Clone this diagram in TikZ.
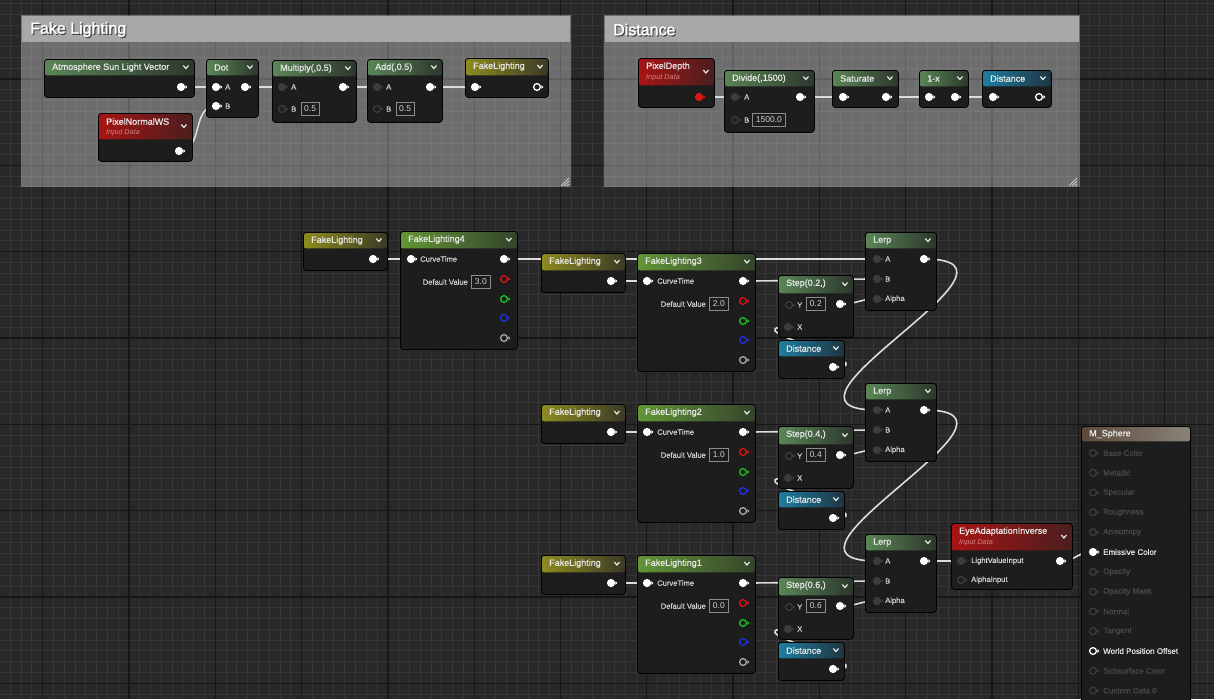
\documentclass[tikz,border=0pt]{standalone}
\usepackage{fontspec}
\setmainfont{Liberation Sans}
\newfontfamily\hdrfont{Liberation Sans}[FakeBold=0.9]
\newfontfamily\cmtfont{Liberation Sans}[FakeBold=1.4]
\newfontfamily\labfont{Liberation Sans}[FakeBold=0.3]
\usetikzlibrary{calc}
\pgfdeclarelayer{gridl}
\pgfdeclarelayer{wirel}
\pgfsetlayers{gridl,wirel,main}
\definecolor{bgc}{HTML}{282828}
\definecolor{gminor}{HTML}{363636}
\definecolor{gmajor}{HTML}{161616}
\definecolor{ctitle}{HTML}{A8A8A8}
\definecolor{bodyc}{HTML}{1C1D1C}
\definecolor{wirec}{HTML}{DCDCDC}
\definecolor{txt}{HTML}{E8E8E8}
\definecolor{lab}{HTML}{D2D2D2}
\definecolor{dimlab}{HTML}{4A4A4A}
\definecolor{pindim}{HTML}{3C3C3C}
\definecolor{boxc}{HTML}{8C8C8C}
\definecolor{subc}{HTML}{D88080}
\definecolor{mg1}{HTML}{5A8656}
\definecolor{mg2}{HTML}{2C362C}
\definecolor{cg1}{HTML}{629636}
\definecolor{cg2}{HTML}{34432C}
\definecolor{yl1}{HTML}{8E8B1E}
\definecolor{yl2}{HTML}{3A3A26}
\definecolor{tl1}{HTML}{1E7EA2}
\definecolor{tl2}{HTML}{1F3440}
\definecolor{rd1}{HTML}{A81414}
\definecolor{rd2}{HTML}{4A1E1E}
\definecolor{ms1}{HTML}{5B4A3A}
\definecolor{ms2}{HTML}{8A827A}
\definecolor{pred}{HTML}{E01212}
\definecolor{pgr}{HTML}{20C020}
\definecolor{pbl}{HTML}{2030E0}
\definecolor{pgy}{HTML}{A8A8A8}
\tikzset{
 gminorst/.style={draw=gminor, line width=1pt},
 gmajorst/.style={draw=gmajor, line width=1.3pt},
 wire/.style={draw=wirec, line width=1.6pt},
 uebody/.style={rectangle, rounded corners=3pt, draw=black, line width=0.8pt, fill=bodyc, inner sep=0pt, anchor=north west},
 hdr/.style n args={3}{path picture={\shade[left color=#1, right color=#2] (path picture bounding box.north west) rectangle ([yshift=-#3]path picture bounding box.north east);}},
 ttl/.style={anchor=west, text=txt, font=\hdrfont\fontsize{9}{10}\selectfont, inner sep=0pt},
 sub/.style={anchor=west, text=subc, font=\fontsize{7.3}{8}\selectfont\itshape, inner sep=0pt},
 plab/.style={anchor=west, text=lab, font=\labfont\fontsize{7.6}{8}\selectfont, inner sep=0pt},
 mlab/.style={anchor=west, text=dimlab, font=\labfont\fontsize{8}{9}\selectfont, inner sep=0pt},
 valbox/.style={anchor=west, draw=boxc, line width=0.7pt, text=lab, font=\fontsize{8.5}{9}\selectfont, minimum height=13pt, minimum width=19pt, inner sep=1pt},
 chev/.style={draw=txt, line width=1.2pt},
 pinn/.style={circle, inner sep=0pt, minimum size=6.8pt, line width=1.3pt},
 ctxt/.style={anchor=west, text=white, font=\cmtfont\fontsize{16}{18}\selectfont, inner sep=0pt},
}
\newcommand\uen[9]{%
 \node[uebody, minimum width=#4pt, minimum height=#5pt, hdr={#6}{#7}{#8pt}] (#1) at (#2,#3) {};
 \draw[chev] ([xshift=-11.5pt, yshift={-(#8/2-1.5)*1pt}]#1.north east) -- ++(2.6pt,-3pt) -- ++(2.6pt,3pt);
 \node[ttl] (#1-t) at ([xshift=8pt, yshift=-8.5pt]#1.north west) {#9};
}
\newcommand\pin[5]{%
 \node[pinn, fill=#4, draw=#5] (#1) at (#2,#3) {};
 \fill[#5] ([xshift=4.4pt]#1.center) ++(0pt,1.8pt) -- ++(2pt,-1.8pt) -- ++(-2pt,-1.8pt) -- cycle;
}
\begin{document}
\begin{tikzpicture}[x=1pt,y=-1pt]
\useasboundingbox (0,0) rectangle (1214,699);
% ---------- background grid and comments
\begin{pgfonlayer}{gridl}
\fill[bgc] (0,0) rectangle (1214,699);
\foreach \i in {-4,...,108} \draw[gminorst] ({42.7+10.7875*\i},0) -- ({42.7+10.7875*\i},699);
\foreach \j in {-24,...,42} \draw[gminorst] (0,{251.7+10.7875*\j}) -- (1214,{251.7+10.7875*\j});
\foreach \i in {-1,...,13} \draw[gmajorst] ({42.7+86.3*\i},0) -- ({42.7+86.3*\i},699);
\foreach \j in {-3,...,6} \draw[gmajorst] (0,{251.7+86.3*\j}) -- (1214,{251.7+86.3*\j});
\fill[white, fill opacity=0.32] (21,15) rectangle (571,187);
\fill[ctitle] (22,16) rectangle (570,42);
\node[ctxt, text=black, opacity=0.5] (c1s) at (31.2,30.7) {Fake Lighting};
\node[ctxt] (c1) at (30,29.5) {Fake Lighting};
\foreach \d in {0,3,6} \draw[white!80!black, line width=0.8pt] (569,{178+\d}) -- ({561+\d},186);
\fill[white, fill opacity=0.32] (604,15) rectangle (1080,187);
\fill[ctitle] (605,16) rectangle (1079,42);
\node[ctxt, text=black, opacity=0.5] (c2s) at (614.2,30.7) {Distance};
\node[ctxt] (c2) at (613,29.5) {Distance};
\foreach \d in {0,3,6} \draw[white!80!black, line width=0.8pt] (1077,{178+\d}) -- ({1069+\d},186);
\end{pgfonlayer}
% ---------- Fake Lighting comment
\uen{asv}{44}{59}{150}{38}{mg1}{mg2}{16}{Atmosphere Sun Light Vector}
\pin{asv-o}{181}{87}{white}{white}
\uen{dot}{206}{59}{52}{58}{mg1}{mg2}{16}{Dot}
\pin{dot-a}{216}{87}{white}{white}
\node[plab] (dot-al) at (225,87) {A};
\pin{dot-b}{216}{106}{white}{white}
\node[plab] (dot-bl) at (225,106) {B};
\pin{dot-o}{245}{87}{white}{white}
\uen{pnw}{98}{113}{94}{48}{rd1}{rd2}{26}{PixelNormalWS}
\node[sub] (pnw-s) at (106,133) {Input Data};
\pin{pnw-o}{179}{151}{white}{white}
\uen{mul}{272}{60}{84}{62}{mg1}{mg2}{16}{Multiply(,0.5)}
\pin{mul-a}{282}{87}{pindim}{pindim}
\node[plab] (mul-al) at (291,87) {A};
\pin{mul-b}{282}{109}{bodyc}{pindim}
\node[plab] (mul-bl) at (291,109) {B};
\node[valbox, minimum width=17.5pt] (mul-v) at (301,109) {0.5};
\pin{mul-o}{343}{87}{white}{white}
\uen{add}{367}{59}{75}{63}{mg1}{mg2}{16}{Add(,0.5)}
\pin{add-a}{377}{87}{pindim}{pindim}
\node[plab] (add-al) at (386,87) {A};
\pin{add-b}{377}{109}{bodyc}{pindim}
\node[plab] (add-bl) at (386,109) {B};
\node[valbox, minimum width=17.5pt] (add-v) at (396,109) {0.5};
\pin{add-o}{430}{87}{white}{white}
\uen{flc}{465}{58}{83}{39}{yl1}{yl2}{17}{FakeLighting}
\pin{flc-i}{475}{87}{white}{white}
\pin{flc-o}{537}{87}{bodyc}{white}
% ---------- Distance comment
\uen{pdp}{638}{58}{76}{49}{rd1}{rd2}{27}{PixelDepth}
\node[sub] (pdp-s) at (646,78) {Input Data};
\pin{pdp-o}{699}{97}{pred}{pred}
\uen{div}{724}{70}{90}{62}{mg1}{mg2}{16}{Divide(,1500)}
\pin{div-a}{735}{97}{pindim}{pindim}
\node[plab] (div-al) at (744,97) {A};
\pin{div-b}{735}{120}{bodyc}{pindim}
\node[plab] (div-bl) at (744,120) {B};
\node[valbox, minimum width=33pt] (div-v) at (752,120) {1500.0};
\pin{div-o}{800}{97}{white}{white}
\uen{sat}{832}{70}{66}{37}{mg1}{mg2}{16}{Saturate}
\pin{sat-i}{843}{97}{white}{white}
\pin{sat-o}{886}{97}{white}{white}
\uen{omx}{919}{70}{49}{37}{mg1}{mg2}{16}{1-x}
\pin{omx-i}{929}{97}{white}{white}
\pin{omx-o}{955}{97}{white}{white}
\uen{dst}{982}{70}{69}{37}{tl1}{tl2}{16}{Distance}
\pin{dst-i}{993}{97}{white}{white}
\pin{dst-o}{1039}{97}{bodyc}{white}
% ---------- main graph, first row
\uen{fl0}{303}{232}{84}{38}{yl1}{yl2}{16}{FakeLighting}
\pin{fl0-o}{373}{259}{white}{white}
\uen{fl4}{400}{231}{117}{118}{cg1}{cg2}{17}{FakeLighting4}
\pin{fl4-ct}{411}{259}{white}{white}
\node[plab] (fl4-ctl) at (420,259) {CurveTime};
\pin{fl4-o}{504}{259}{white}{white}
\node[plab, anchor=east] (fl4-dvl) at (468,282) {Default Value};
\node[valbox] (fl4-dv) at (471,282) {3.0};
\pin{fl4-r}{504}{279}{bodyc}{pred}
\pin{fl4-g}{504}{299}{bodyc}{pgr}
\pin{fl4-b}{504}{318}{bodyc}{pbl}
\pin{fl4-w}{504}{338}{bodyc}{pgy}
\foreach \ri/\fn/\fv/\sv in {0/3/2.0/0.2,1/2/1.0/0.4,2/1/0.0/0.6}{
 \pgfmathsetmacro\dy{151*\ri}
 \uen{flr\ri}{541}{253+\dy}{84}{39}{yl1}{yl2}{17}{FakeLighting}
 \pin{flr\ri-o}{611}{281+\dy}{white}{white}
 \uen{fln\ri}{637}{253+\dy}{118}{118}{cg1}{cg2}{17}{FakeLighting\fn}
 \pin{fln\ri-ct}{647}{281+\dy}{white}{white}
 \node[plab] (fln\ri-ctl) at (657,281+\dy) {CurveTime};
 \pin{fln\ri-o}{743}{281+\dy}{white}{white}
 \node[plab, anchor=east] (fln\ri-dvl) at (706,304+\dy) {Default Value};
 \node[valbox] (fln\ri-dv) at (709,304+\dy) {\fv};
 \pin{fln\ri-r}{743}{301+\dy}{bodyc}{pred}
 \pin{fln\ri-g}{743}{321+\dy}{bodyc}{pgr}
 \pin{fln\ri-b}{743}{340+\dy}{bodyc}{pbl}
 \pin{fln\ri-w}{743}{360+\dy}{bodyc}{pgy}
 \uen{st\ri}{778}{275+\dy}{75}{62}{mg1}{mg2}{18}{Step(\sv,)}
 \pin{st\ri-y}{789}{305+\dy}{bodyc}{pindim}
 \node[plab] (st\ri-yl) at (797,305+\dy) {Y};
 \node[valbox] (st\ri-v) at (806,304+\dy) {\sv};
 \pin{st\ri-o}{840}{304+\dy}{white}{white}
 \pin{st\ri-x}{788}{327+\dy}{pindim}{pindim}
 \node[plab] (st\ri-xl) at (797,327+\dy) {X};
 \uen{ds\ri}{778}{340+\dy}{66}{38}{tl1}{tl2}{16}{Distance}
 \pin{ds\ri-o}{833}{367+\dy}{white}{white}
 \uen{lp\ri}{865}{232+\dy}{71}{78}{mg1}{mg2}{16}{Lerp}
 \pin{lp\ri-a}{877}{259+\dy}{pindim}{pindim}
 \node[plab] (lp\ri-al) at (885,259+\dy) {A};
 \pin{lp\ri-b}{877}{279+\dy}{pindim}{pindim}
 \node[plab] (lp\ri-bl) at (885,279+\dy) {B};
 \pin{lp\ri-p}{877}{299+\dy}{pindim}{pindim}
 \node[plab] (lp\ri-pl) at (885,299+\dy) {Alpha};
 \pin{lp\ri-o}{924}{259+\dy}{white}{white}
}
% ---------- EyeAdaptationInverse
\uen{eai}{951}{523}{121}{66}{rd1}{rd2}{27}{EyeAdaptationInverse}
\node[sub] (eai-s) at (959,543) {Input Data};
\pin{eai-l}{961}{561}{pindim}{pindim}
\node[plab] (eai-ll) at (971,561) {LightValueInput};
\pin{eai-a}{961}{580}{bodyc}{pindim}
\node[plab] (eai-al) at (971,580) {AlphaInput};
\pin{eai-o}{1060}{561}{white}{white}
% ---------- M_Sphere
\node[uebody, minimum width=109pt, minimum height=290pt, hdr={ms1}{ms2}{15pt}] (ms) at (1081,426) {};
\node[ttl] (ms-t) at (1089,434) {M\_Sphere};
\foreach \i/\lb in {0/Base Color,1/Metallic,2/Specular,3/Roughness,4/Anisotropy,6/Opacity,7/Opacity Mask,8/Normal,9/Tangent,11/Subsurface Color,12/Custom Data 0}{
 \pgfmathsetmacro\yy{453+19.8*\i}
 \pin{ms-\i}{1093}{\yy}{bodyc}{pindim}
 \node[mlab] (ms-\i l) at (1103,\yy) {\lb};
}
\pin{ms-5}{1093}{552}{white}{white}
\node[mlab, text=txt] (ms-5l) at (1103,552) {Emissive Color};
\pin{ms-10}{1093}{651}{bodyc}{white}
\node[mlab, text=txt] (ms-10l) at (1103,651) {World Position Offset};
% ---------- wires
\begin{pgfonlayer}{wirel}
\draw[wire] (asv-o.center) -- (dot-a.center);
\draw[wire] (pnw-o.center) .. controls +(25,0) and +(-25,0) .. (dot-b.center);
\draw[wire] (dot-o.center) -- (mul-a.center);
\draw[wire] (mul-o.center) -- (add-a.center);
\draw[wire] (add-o.center) -- (flc-i.center);
\draw[wire] (pdp-o.center) -- (div-a.center);
\draw[wire] (div-o.center) -- (sat-i.center);
\draw[wire] (sat-o.center) -- (omx-i.center);
\draw[wire] (omx-o.center) -- (dst-i.center);
\draw[wire] (fl0-o.center) -- (fl4-ct.center);
\draw[wire] (fl4-o.center) -- (lp0-a.center);
\foreach \ri in {0,1,2}{
 \draw[wire] (flr\ri-o.center) -- (fln\ri-ct.center);
 \draw[wire] (fln\ri-o.center) .. controls +(50,0) and +(-50,0) .. (lp\ri-b.center);
 \draw[wire] (st\ri-o.center) .. controls +(18,0) and +(-18,0) .. (lp\ri-p.center);
 \draw[wire] (ds\ri-o.center) .. controls +(60,0) and +(-60,0) .. (st\ri-x.center);
}
\draw[wire] (lp0-o.center) .. controls +(130,0) and +(-130,0) .. (lp1-a.center);
\draw[wire] (lp1-o.center) .. controls +(130,0) and +(-130,0) .. (lp2-a.center);
\draw[wire] (lp2-o.center) -- (eai-l.center);
\draw[wire] (eai-o.center) .. controls +(16,0) and +(-16,0) .. (ms-5.center);
\end{pgfonlayer}
\end{tikzpicture}
\end{document}
